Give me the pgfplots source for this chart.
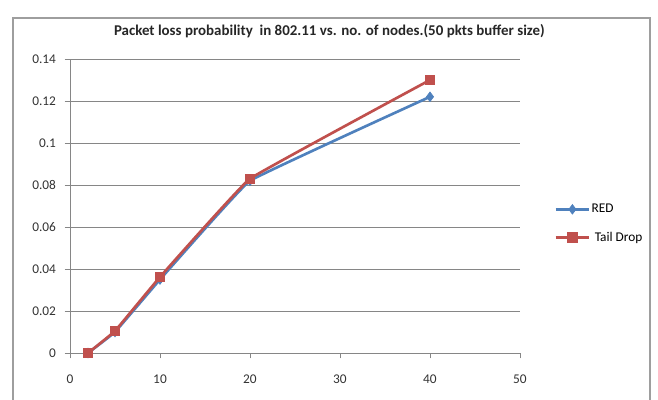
\documentclass[border=0pt]{standalone}
\usepackage{pgfplots}
\pgfplotsset{compat=1.18}
\usepackage{fontspec}
\setmainfont{Carlito}
\definecolor{redser}{HTML}{4F81BD}
\definecolor{tdser}{HTML}{C0504D}
\definecolor{gridc}{HTML}{868686}
\begin{document}
\begin{tikzpicture}
\useasboundingbox (0pt,0pt) rectangle (493.5pt,300pt);
\draw[color=gridc!80, line width=0.8pt] (9.75pt,-8pt) rectangle (487.5pt,286.5pt);
\node[font=\fontsize{11.2}{13}\selectfont\bfseries, text=black!85] at (247pt,277pt) {Packet loss probability\ \ in 802.11 vs. no. of nodes.(50 pkts buffer size)};
\begin{axis}[
  at={(52.5pt,35.25pt)}, anchor=south west,
  scale only axis, width=337.5pt, height=220.5pt,
  xmin=0, xmax=50, ymin=0, ymax=0.14,
  xtick={0,10,20,30,40,50},
  ytick={0,0.02,0.04,0.06,0.08,0.1,0.12,0.14},
  yticklabels={0,0.02,0.04,0.06,0.08,0.1,0.12,0.14},
  xticklabels={0,10,20,30,40,50},
  axis x line*=bottom, axis y line*=left,
  axis line style={gridc, line width=0.6pt, -},
  ymajorgrids, grid style={gridc, line width=0.6pt},
  tick align=outside, major tick length=4pt,
  tick style={gridc, line width=0.6pt},
  tick label style={font=\fontsize{10}{12}\selectfont, text=black!80},
  xticklabel style={yshift=-9pt},
  yticklabel style={xshift=-3pt},
  legend style={at={(1.067,0.44)}, anchor=west, draw=none, fill=none,
    font=\fontsize{10}{12}\selectfont, row sep=9pt, legend cell align=left,
    nodes={inner xsep=1pt}},
  legend image code/.code={\draw[#1] (0pt,0pt) -- (25pt,0pt) plot coordinates {(12.5pt,0pt)};},
  clip=false,
]
\addplot[redser, line width=2pt, smooth, tension=0.12, mark=diamond*, mark size=3.6pt, mark options={fill=redser, line width=0.5pt}]
  coordinates {(2,0) (5,0.010) (10,0.035) (20,0.082) (40,0.122)};
\addlegendentry{RED}
\addplot[tdser, line width=2pt, smooth, tension=0.12, mark=square*, mark size=3.6pt, mark options={fill=tdser, line width=0.5pt}]
  coordinates {(2,0) (5,0.0105) (10,0.0362) (20,0.083) (40,0.130)};
\addlegendentry{\ Tail Drop}
\end{axis}
\end{tikzpicture}
\end{document}
